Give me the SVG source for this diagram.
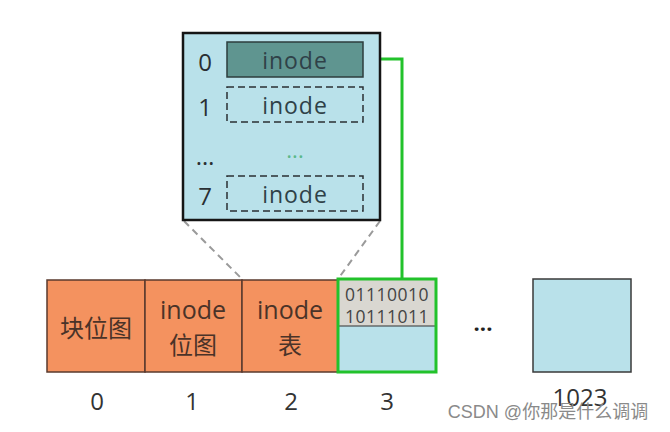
<svg xmlns="http://www.w3.org/2000/svg" width="670" height="432" viewBox="0 0 670 432">
<style>
text{font-family:"Open Sans","Noto Sans CJK SC",sans-serif;text-anchor:middle;dominant-baseline:central}
.blk{fill:#f4925f;stroke:#5a3a2e;stroke-width:1.5}
.t{font-size:25px;fill:#4a3328}
.cn{font-family:"Noto Sans CJK SC","Open Sans",sans-serif;font-size:24px;fill:#4a3328}
.num{font-size:24px;fill:#333}
.ix{font-size:24px;fill:#2a2f33}
.ino{font-size:23px;fill:#2f4148;letter-spacing:1px}
.dash{fill:none;stroke:#2a2f33;stroke-width:1.5;stroke-dasharray:7 4}
.bin{font-size:17.5px;fill:#444;letter-spacing:0.5px}
</style>
<rect width="670" height="432" fill="#fff"/>
<g id="connectors">
<line x1="184" y1="221" x2="242" y2="279" stroke="#9a9a9a" stroke-width="2" stroke-dasharray="7 5"/>
<line x1="380" y1="221" x2="338" y2="279" stroke="#9a9a9a" stroke-width="2" stroke-dasharray="7 5"/>
<polyline points="362,59 402,59 402,279" fill="none" stroke="#22c22b" stroke-width="3"/>
</g>
<g id="inode-table-block">
<rect x="183" y="33" width="197" height="187" fill="#b9e1ea" stroke="#151515" stroke-width="2.5"/>
<rect x="227" y="42" width="136" height="35" fill="#5f9590" stroke="#2d3d3d" stroke-width="1.5"/>
<text class="ino" x="295" y="60">inode</text>
<rect class="dash" x="227" y="87" width="136" height="35"/>
<text class="ino" x="295" y="105">inode</text>
<text x="295" y="155" font-size="22" fill="#5cb88a">···</text>
<rect class="dash" x="227" y="176" width="136" height="35"/>
<text class="ino" x="295" y="194">inode</text>
<text class="ix" x="205" y="61">0</text>
<text class="ix" x="205" y="106">1</text>
<text class="ix" x="205" y="155">…</text>
<text class="ix" x="205" y="195">7</text>
</g>
<g id="block0">
<rect class="blk" x="47" y="280" width="98" height="92"/>
<text class="cn" x="96" y="326">块位图</text>
</g>
<g id="block1">
<rect class="blk" x="145" y="280" width="97" height="92"/>
<text class="t" x="193" y="309">inode</text>
<text class="cn" x="193" y="343">位图</text>
</g>
<g id="block2">
<rect class="blk" x="242" y="280" width="96" height="92"/>
<text class="t" x="290" y="309">inode</text>
<text class="cn" x="290" y="343">表</text>
</g>
<g id="block3">
<rect x="338" y="279" width="98" height="93" fill="#b9e1ea"/>
<rect x="338" y="279" width="98" height="47" fill="#d9d7d1"/>
<line x1="338" y1="326" x2="436" y2="326" stroke="#333" stroke-width="1.2"/>
<rect x="338" y="279" width="98" height="93" fill="none" stroke="#22c22b" stroke-width="3"/>
<text class="bin" x="387" y="294">01110010</text>
<text class="bin" x="387" y="316">10111011</text>
</g>
<g id="block1023">
<rect x="533" y="279" width="98" height="93" fill="#b9e1ea" stroke="#3a3a3a" stroke-width="1.5"/>
</g>
<text x="483" y="328" font-size="22" font-weight="bold" fill="#222">···</text>
<text class="num" x="97" y="400">0</text>
<text class="num" x="192" y="400">1</text>
<text class="num" x="291" y="400">2</text>
<text class="num" x="387" y="400">3</text>
<text class="num" x="580" y="396">1023</text>
<text x="548" y="412" font-size="18" fill="#8a8a8a" style="font-family:'Liberation Sans','Noto Sans CJK SC',sans-serif">CSDN @你那是什么调调</text>
</svg>
